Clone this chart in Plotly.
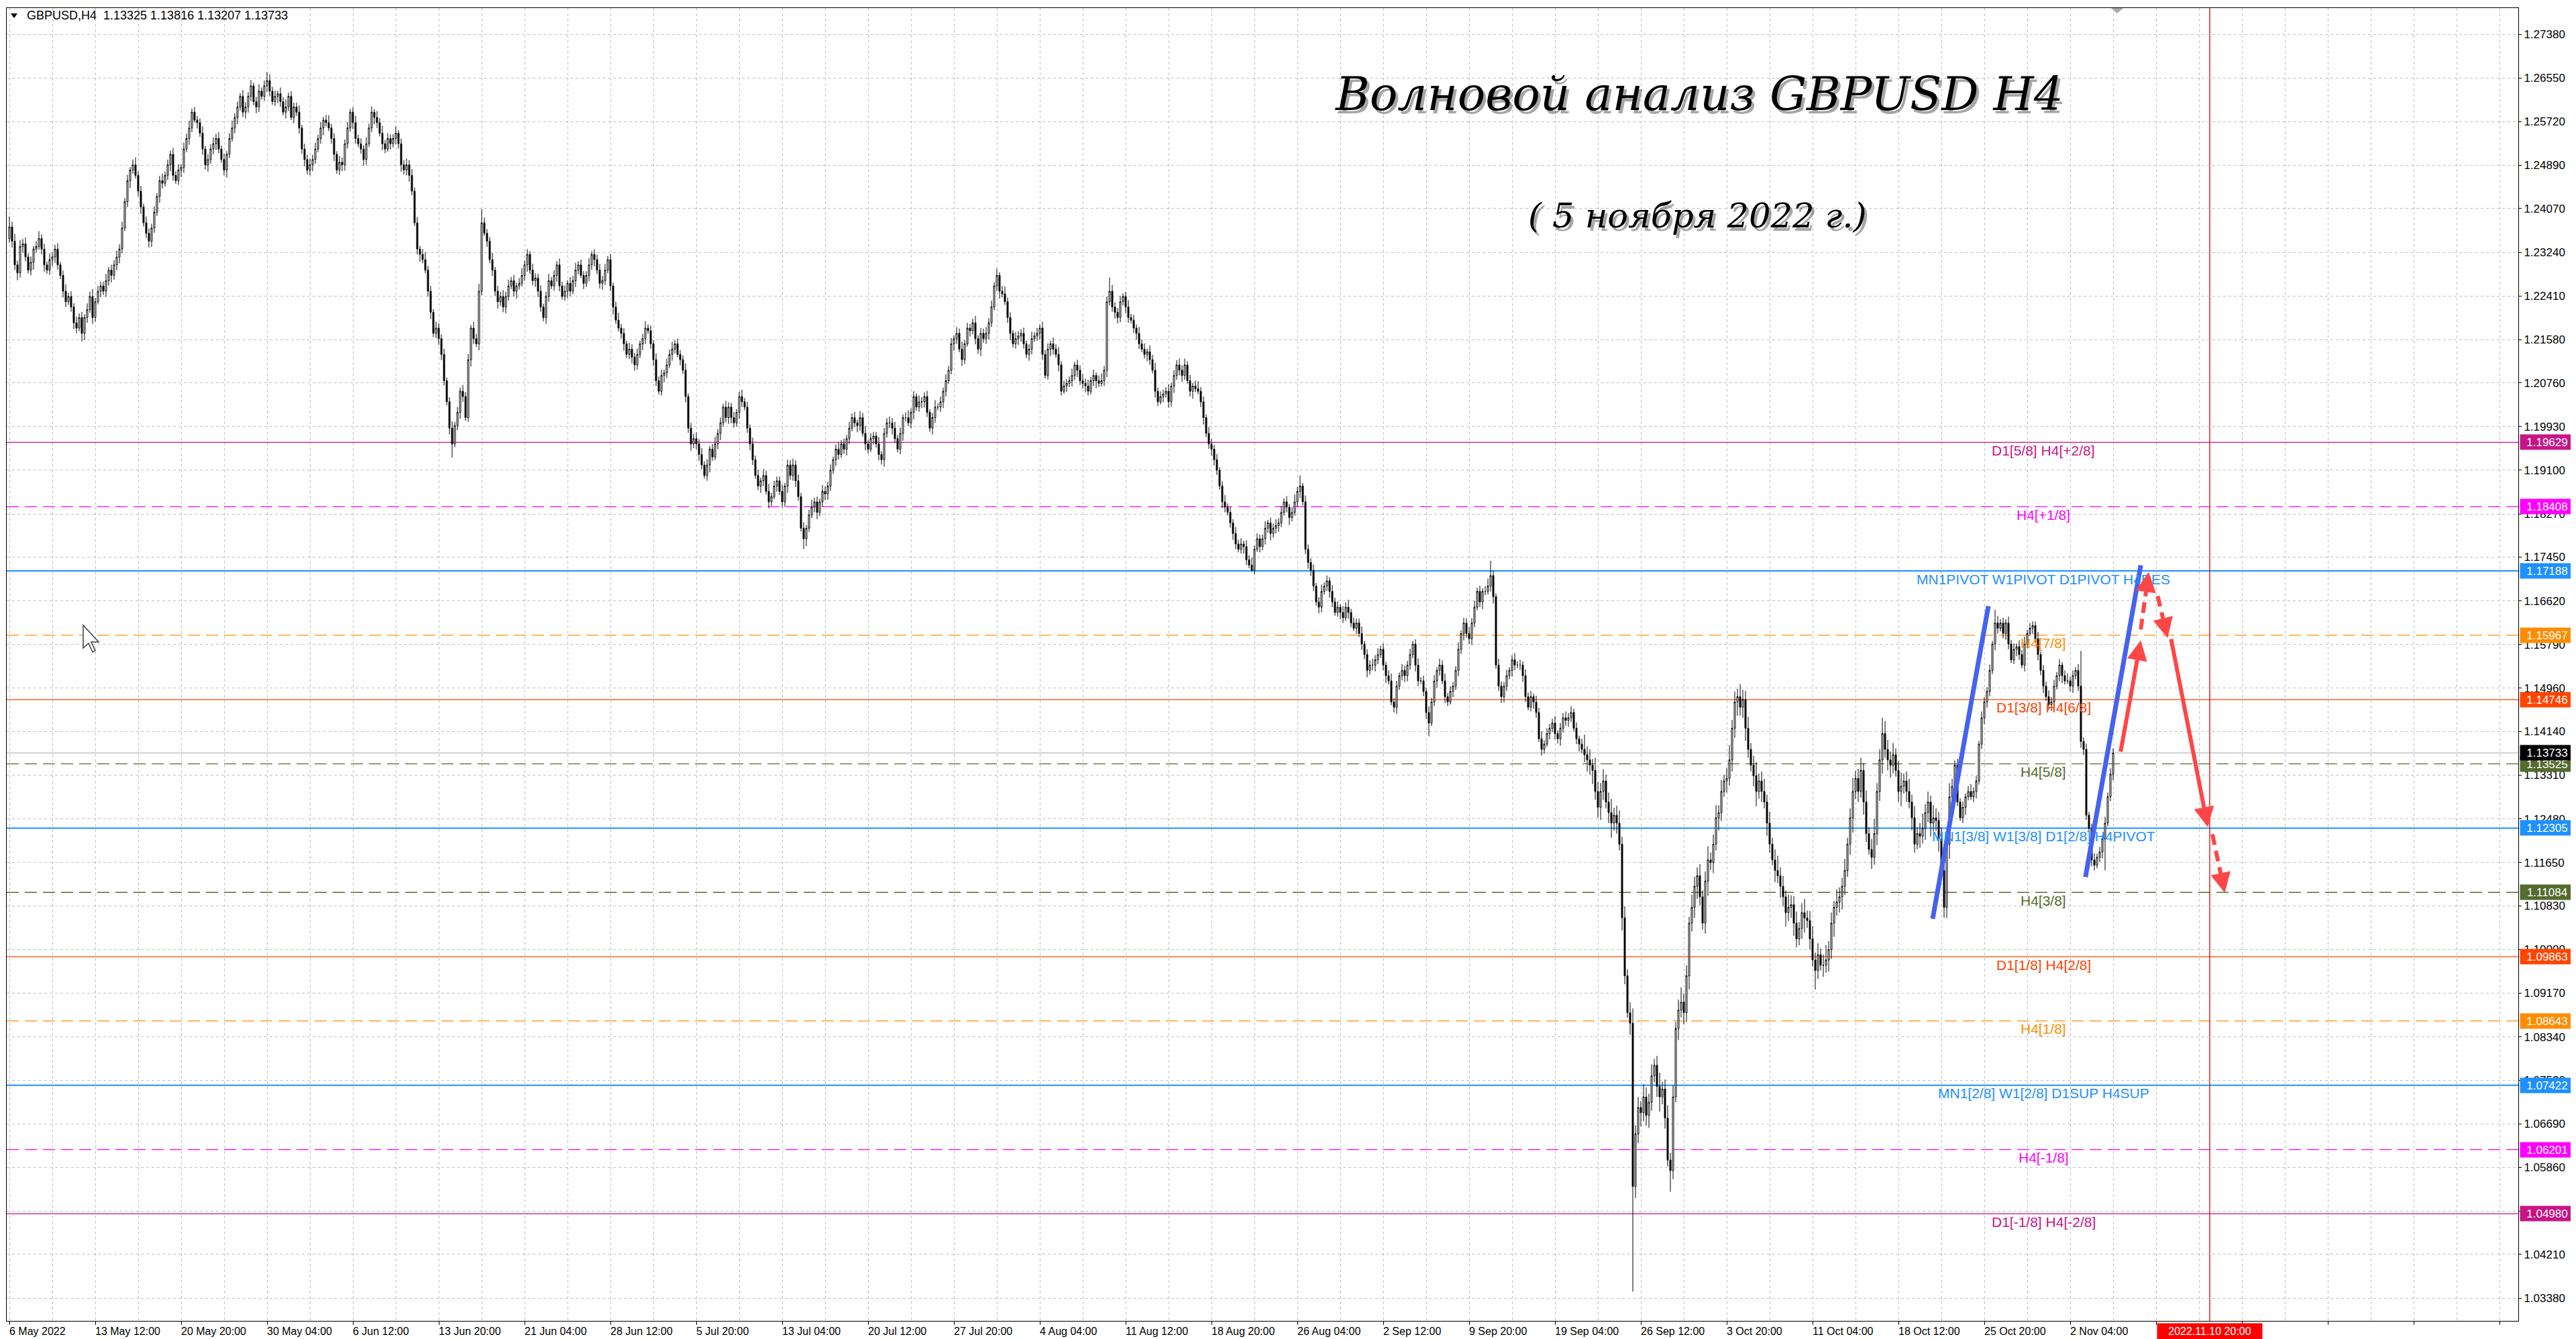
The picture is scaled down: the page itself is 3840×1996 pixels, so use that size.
import plotly.graph_objects as go

# ---------------- DATA ----------------
# GBPUSD H4 candles, prices in pips (1e-4). Open of each bar = previous close.
open_first = 12350
closes = [
 12372, 12345, 12300, 12285, 12335,
 12340, 12315, 12290, 12305, 12330, 12335,
 12350, 12330, 12300, 12290, 12310, 12315,
 12330, 12300, 12280, 12250, 12230, 12240,
 12220, 12190, 12180, 12200, 12170, 12200,
 12215, 12240, 12200, 12230, 12250, 12260,
 12250, 12270, 12290, 12280, 12300, 12315,
 12330, 12370, 12420, 12460, 12480, 12490,
 12470, 12440, 12410, 12380, 12360, 12345,
 12370, 12400, 12430, 12460, 12455, 12470,
 12490, 12510, 12470, 12460, 12480, 12485,
 12520, 12540, 12560, 12590, 12575, 12570,
 12550, 12520, 12490, 12500, 12520, 12530,
 12540, 12520, 12500, 12480, 12510, 12540,
 12560, 12580, 12600, 12620, 12590, 12600,
 12620, 12640, 12610, 12600, 12630, 12620,
 12640, 12650, 12630, 12610, 12620, 12625,
 12610, 12590, 12600, 12620, 12580, 12600,
 12590, 12560, 12520, 12500, 12480, 12490,
 12500, 12520, 12540, 12560, 12575, 12570,
 12560, 12540, 12510, 12480, 12495, 12490,
 12530, 12560, 12590, 12570, 12540, 12530,
 12520, 12500, 12530, 12560, 12590, 12580,
 12570, 12550, 12530, 12520, 12540, 12530,
 12540, 12550, 12530, 12490, 12480, 12490,
 12470, 12440, 12380, 12330, 12320, 12310,
 12290, 12250, 12210, 12170, 12180, 12160,
 12130, 12080, 12040, 11990, 11960, 11995,
 12020, 12060, 12050, 12010, 12120, 12180,
 12160, 12150, 12250, 12380, 12360, 12345,
 12310, 12290, 12250, 12230, 12240, 12220,
 12240, 12260, 12270, 12250, 12260, 12265,
 12280, 12300, 12320, 12290, 12270, 12275,
 12250, 12220, 12200, 12240, 12270, 12260,
 12280, 12300, 12260, 12240, 12250, 12265,
 12250, 12270, 12290, 12300, 12280, 12265,
 12280, 12300, 12320, 12310, 12290, 12265,
 12270, 12290, 12310, 12260, 12220, 12195,
 12180, 12170, 12150, 12130, 12140, 12125,
 12110, 12130, 12150, 12160, 12180, 12175,
 12150, 12120, 12080, 12060, 12090, 12095,
 12110, 12130, 12140, 12150, 12130, 12120,
 12100, 12050, 11990, 11960, 11970, 11960,
 11940, 11920, 11900, 11920, 11950, 11935,
 11960, 11980, 12000, 12030, 12010, 12030,
 12010, 12000, 12020, 12050, 12040, 12030,
 11990, 11960, 11930, 11900, 11880, 11890,
 11900, 11870, 11850, 11860, 11880, 11890,
 11870, 11850, 11880, 11920, 11900, 11920,
 11890, 11860, 11800, 11780, 11800, 11825,
 11840, 11850, 11830, 11850, 11870, 11865,
 11880, 11910, 11930, 11950, 11940, 11960,
 11950, 11970, 11990, 12010, 12000, 11995,
 12010, 11980, 11960, 11950, 11970, 11975,
 11960, 11940, 11930, 11980, 12000, 12000,
 11990, 11970, 11950, 11980, 12010, 12010,
 12000, 12020, 12050, 12030, 12040, 12040,
 12050, 12020, 11990, 12010, 12030, 12030,
 12040, 12060, 12080, 12100, 12150, 12160,
 12170, 12140, 12120, 12150, 12180, 12175,
 12190, 12160, 12140, 12170, 12160, 12170,
 12190, 12220, 12260, 12280, 12250, 12245,
 12230, 12200, 12170, 12150, 12160, 12165,
 12170, 12150, 12130, 12140, 12160, 12165,
 12170, 12180, 12130, 12090, 12140, 12150,
 12140, 12130, 12110, 12060, 12070, 12075,
 12080, 12090, 12110, 12100, 12080, 12075,
 12070, 12060, 12080, 12090, 12080, 12075,
 12080, 12100, 12230, 12250, 12220, 12210,
 12200, 12230, 12240, 12220, 12200, 12195,
 12180, 12170, 12150, 12140, 12130, 12135,
 12120, 12100, 12060, 12040, 12050, 12055,
 12060, 12040, 12070, 12090, 12110, 12100,
 12090, 12110, 12080, 12060, 12070, 12065,
 12060, 12040, 12010, 11980, 11960, 11950,
 11930, 11910, 11880, 11850, 11840, 11830,
 11810, 11790, 11770, 11760, 11770, 11765,
 11740, 11730, 11720, 11760, 11780, 11765,
 11780, 11800, 11810, 11790, 11800, 11805,
 11810, 11830, 11850, 11840, 11820, 11830,
 11850, 11870, 11880, 11850, 11760, 11735,
 11720, 11690, 11660, 11650, 11680, 11690,
 11700, 11680, 11660, 11640, 11650, 11640,
 11630, 11650, 11640, 11620, 11610, 11620,
 11600, 11580, 11560, 11530, 11540, 11540,
 11550, 11560, 11570, 11540, 11520, 11510,
 11470, 11460, 11500, 11520, 11530, 11520,
 11540, 11560, 11580, 11540, 11510, 11510,
 11490, 11450, 11430, 11470, 11510, 11530,
 11540, 11510, 11480, 11470, 11490, 11500,
 11530, 11570, 11600, 11620, 11600, 11590,
 11620, 11650, 11680, 11660, 11680, 11680,
 11690, 11710, 11670, 11540, 11500, 11480,
 11500, 11520, 11530, 11550, 11540, 11540,
 11540, 11520, 11480, 11460, 11480, 11470,
 11450, 11400, 11380, 11390, 11410, 11420,
 11430, 11410, 11400, 11420, 11440, 11435,
 11440, 11450, 11420, 11400, 11390, 11380,
 11370, 11360, 11350, 11340, 11300, 11270,
 11300, 11320, 11280, 11260, 11240, 11255,
 11240, 11200, 11060, 10950, 10880, 10860,
 10550, 10650, 10700, 10690, 10720, 10685,
 10710, 10760, 10780, 10740, 10720, 10735,
 10680, 10600, 10580, 10720, 10850, 10885,
 10900, 10880, 10950, 11050, 11080, 11120,
 11140, 11100, 11050, 11130, 11170, 11165,
 11200, 11250, 11260, 11300, 11320, 11325,
 11360, 11420, 11470, 11480, 11460, 11475,
 11420, 11380, 11350, 11330, 11300, 11320,
 11300, 11280, 11240, 11200, 11170, 11150,
 11140, 11120, 11100, 11070, 11080, 11085,
 11050, 11020, 11040, 11070, 11060, 11055,
 11020, 10980, 10960, 10990, 10970, 10970,
 10980, 11000, 11050, 11080, 11090, 11100,
 11120, 11150, 11200, 11250, 11300, 11325,
 11300, 11340, 11280, 11220, 11190, 11175,
 11220, 11300, 11360, 11410, 11380, 11360,
 11350, 11370, 11340, 11300, 11310, 11320,
 11300, 11280, 11250, 11200, 11220, 11215,
 11230, 11260, 11280, 11240, 11250, 11245,
 11210, 11150, 11080, 11200, 11290, 11310,
 11350, 11280, 11250, 11270, 11290, 11300,
 11290, 11300, 11320, 11390, 11440, 11470,
 11490, 11530, 11580, 11620, 11610, 11620,
 11600, 11620, 11580, 11550, 11570, 11575,
 11560, 11540, 11580, 11600, 11610, 11615,
 11590, 11560, 11530, 11500, 11480, 11465,
 11470, 11500, 11520, 11540, 11520, 11510,
 11510, 11500, 11520, 11530, 11500, 11395,
 11380, 11255, 11230, 11170, 11160, 11175,
 11185, 11210, 11240, 11290, 11333, 11373,
]
# upper / lower shadow lengths in pips
wick_up = [
 20, 10, 14, 8, 12,
 9, 12, 7, 11, 6, 10,  14, 8, 10, 6, 12, 9,  8, 11, 6, 9, 13, 7,  10, 7, 12, 8, 11, 6,  12, 9, 14, 7, 10, 8,  8, 13, 6, 10, 9, 12,
 9, 12, 7, 11, 6, 10,  14, 8, 10, 6, 12, 9,  8, 11, 6, 9, 13, 7,  10, 7, 12, 8, 11, 6,  12, 9, 14, 7, 10, 8,  8, 13, 6, 10, 9, 12,
 9, 12, 7, 11, 6, 10,  14, 8, 10, 6, 12, 9,  8, 11, 6, 9, 13, 7,  10, 16, 12, 8, 11, 6, 12, 9, 14, 7, 10, 8,  8, 13, 6, 10, 9, 12,
 9, 12, 7, 11, 6, 10,  14, 8, 10, 6, 12, 9,  8, 11, 6, 9, 13, 7,  10, 7, 12, 8, 11, 6,  12, 9, 14, 7, 10, 8,  8, 13, 6, 10, 9, 12,
 9, 12, 7, 11, 6, 10,  14, 8, 10, 6, 12, 9,  8, 11, 6, 9, 13, 7,  10, 7, 12, 8, 11, 6,  12, 9, 14, 26, 10, 8, 8, 13, 6, 10, 9, 12,
 9, 12, 7, 11, 6, 10,  14, 8, 10, 6, 12, 9,  8, 11, 6, 9, 13, 7,  10, 7, 12, 8, 11, 6,  12, 9, 14, 7, 10, 8,  8, 13, 6, 10, 9, 12,
 9, 12, 7, 11, 6, 10,  14, 8, 10, 6, 12, 9,  8, 11, 6, 9, 13, 7,  10, 7, 12, 8, 11, 6,  12, 9, 14, 7, 10, 8,  8, 13, 6, 10, 9, 12,
 9, 12, 7, 11, 6, 10,  14, 8, 10, 6, 12, 9,  8, 11, 6, 9, 13, 7,  10, 7, 12, 8, 11, 6,  12, 9, 14, 7, 10, 8,  8, 13, 6, 10, 9, 12,
 9, 12, 7, 11, 6, 10,  14, 8, 10, 6, 12, 9,  8, 11, 6, 9, 13, 7,  10, 7, 12, 8, 11, 6,  12, 9, 14, 7, 10, 8,  8, 13, 6, 10, 9, 12,
 9, 12, 7, 11, 6, 10,  14, 8, 10, 6, 12, 9,  8, 11, 6, 9, 13, 7,  10, 7, 12, 8, 11, 6,  12, 9, 14, 7, 10, 8,  8, 13, 6, 10, 9, 12,
 9, 12, 7, 13, 6, 10,  14, 8, 10, 6, 12, 9,  8, 11, 6, 9, 13, 7,  10, 7, 12, 8, 11, 6,  12, 9, 14, 7, 10, 8,  8, 13, 6, 10, 9, 12,
 9, 12, 7, 11, 6, 10,  14, 8, 10, 26, 12, 9, 8, 11, 6, 9, 13, 7,  10, 7, 12, 8, 11, 6,  12, 9, 14, 7, 10, 8,  8, 13, 6, 10, 9, 12,
 9, 12, 7, 11, 6, 10,  14, 8, 10, 6, 12, 9,  8, 11, 6, 9, 13, 7,  10, 7, 12, 8, 11, 6,  12, 9, 14, 7, 10, 8,  8, 13, 6, 10, 9, 12,
 9, 12, 7, 11, 6, 10,  14, 8, 20, 6, 12, 9,  8, 11, 6, 9, 13, 7,  10, 7, 12, 8, 11, 6,  12, 9, 14, 7, 10, 8,  8, 13, 6, 10, 9, 12,
 9, 12, 7, 11, 6, 10,  14, 8, 10, 6, 12, 9,  8, 11, 6, 9, 13, 7,  10, 7, 12, 8, 11, 6,  12, 9, 14, 7, 10, 8,  8, 13, 6, 10, 9, 12,
 9, 12, 7, 11, 6, 10,  14, 28, 10, 6, 12, 9, 8, 11, 6, 9, 13, 7,  10, 7, 12, 8, 11, 6,  12, 9, 14, 7, 10, 8,  8, 13, 6, 10, 9, 12,
 9, 12, 7, 11, 6, 10,
 28, 16, 20, 12, 24, 18,  16, 22, 12, 18, 26, 14,  18, 24, 14, 22, 12, 20,
 28, 16, 20, 12, 24, 18,  16, 22, 12, 18, 26, 14,  18, 24, 14, 22, 12, 20,
 28, 16, 20, 12, 24, 18,  16, 22, 12, 18, 26, 14,  18, 24, 14, 22, 12, 20,
 28, 16, 20, 15, 24, 18,  16, 22, 12, 18, 26, 14,  18, 24, 14, 22, 12, 20,
 28, 16, 20, 12, 24, 18,  16, 22, 12, 18, 26, 14,  18, 24, 14, 22, 12, 20,
 28, 16, 20, 12, 24, 18,  16, 22, 12, 18, 26, 14,  18, 24, 14, 22, 12, 20,
 28, 16, 20, 30, 24, 18,  16, 22, 12, 18, 26, 14,  18, 24, 14, 22, 12, 20,
 28, 16, 20, 12, 24, 18,  16, 22, 12, 18, 26, 14,
 9, 12, 7, 11, 6, 10,  14, 8, 10, 6, 12, 9,  8, 11, 6, 25, 13, 7,  10, 7, 12, 8, 11, 6,  12, 9, 14, 7, 10, 8,  8, 13, 6, 10, 9, 12,
 9, 12, 7, 11, 6, 10,  14, 8, 10, 6, 12, 67,  8, 11, 6, 9, 13, 7,  10, 7, 12, 8, 11, 9,
]
wick_dn = [
 8, 12, 10, 14, 9,
 12, 8, 6, 10, 14, 7,  6, 10, 13, 7, 9, 12,  11, 9, 7, 12, 10, 6,  9, 12, 10, 6, 15, 13,  10, 6, 12, 8, 5, 11,  7, 11, 9, 13, 8, 10,
 12, 8, 6, 10, 14, 7,  6, 10, 13, 7, 9, 12,  11, 9, 7, 12, 10, 6,  9, 12, 10, 6, 8, 13,  10, 6, 12, 8, 5, 11,  7, 11, 9, 13, 8, 10,
 12, 8, 6, 10, 14, 7,  6, 10, 13, 7, 9, 12,  11, 9, 7, 12, 10, 6,  9, 12, 10, 6, 8, 13,  10, 6, 12, 8, 5, 11,  7, 11, 9, 13, 8, 10,
 12, 8, 6, 10, 14, 7,  6, 10, 13, 7, 9, 12,  11, 9, 7, 12, 10, 6,  9, 12, 10, 6, 8, 13,  10, 6, 12, 8, 5, 11,  7, 11, 9, 13, 8, 10,
 12, 8, 6, 10, 14, 7,  6, 10, 13, 7, 9, 12,  11, 9, 7, 12, 26, 6,  9, 12, 10, 6, 8, 13,  10, 6, 12, 8, 5, 11,  7, 11, 9, 13, 8, 10,
 12, 8, 6, 10, 14, 7,  6, 10, 13, 7, 9, 12,  11, 9, 7, 12, 10, 6,  9, 12, 10, 6, 8, 13,  10, 6, 12, 8, 5, 11,  7, 11, 9, 13, 8, 10,
 12, 8, 6, 10, 14, 7,  6, 10, 13, 7, 9, 12,  11, 9, 7, 12, 10, 6,  9, 12, 10, 6, 8, 13,  10, 6, 12, 8, 5, 11,  7, 11, 9, 13, 8, 10,
 12, 8, 6, 10, 14, 7,  6, 10, 13, 7, 9, 12,  11, 9, 7, 12, 10, 6,  9, 12, 10, 6, 8, 13,  10, 6, 12, 8, 5, 11,  7, 11, 9, 13, 8, 10,
 12, 8, 6, 20, 14, 7,  6, 10, 13, 7, 9, 12,  11, 9, 7, 12, 10, 6,  9, 12, 10, 6, 8, 13,  10, 6, 12, 8, 5, 11,  7, 11, 9, 13, 8, 10,
 12, 8, 6, 10, 14, 7,  6, 10, 13, 7, 9, 12,  11, 9, 7, 12, 10, 6,  9, 12, 10, 6, 8, 13,  10, 6, 12, 8, 5, 11,  7, 11, 9, 13, 8, 10,
 12, 8, 6, 10, 14, 7,  6, 10, 13, 7, 9, 12,  11, 9, 7, 12, 10, 6,  9, 12, 10, 6, 8, 13,  10, 6, 12, 8, 5, 11,  7, 11, 9, 13, 8, 10,
 12, 8, 6, 10, 14, 7,  6, 10, 13, 7, 9, 12,  11, 9, 7, 12, 10, 6,  9, 12, 10, 6, 8, 13,  10, 6, 12, 8, 5, 11,  7, 11, 9, 13, 8, 10,
 12, 8, 6, 10, 14, 7,  6, 10, 13, 7, 9, 12,  11, 9, 7, 12, 10, 6,  9, 12, 10, 6, 8, 13,  10, 6, 2, 8, 5, 11,   7, 11, 9, 13, 8, 10,
 12, 8, 6, 10, 14, 7,  6, 10, 13, 7, 9, 12,  11, 9, 7, 12, 10, 6,  9, 12, 10, 6, 8, 13,  10, 6, 12, 8, 5, 11,  7, 11, 9, 13, 8, 10,
 12, 8, 6, 10, 14, 7,  6, 10, 13, 7, 9, 12,  11, 9, 7, 12, 10, 6,  9, 12, 25, 6, 8, 13,  10, 6, 12, 8, 5, 11,  7, 11, 9, 13, 8, 10,
 12, 8, 6, 10, 14, 7,  6, 10, 13, 7, 9, 12,  11, 9, 7, 12, 10, 6,  9, 12, 10, 6, 8, 13,  10, 6, 12, 8, 5, 11,  7, 11, 9, 13, 8, 10,
 12, 8, 6, 10, 14, 7,
 14, 22, 18, 26, 16, 20,  24, 16, 12, 20, 28, 14,  20, 12, 24, 16, 10, 22,
 200, 22, 18, 26, 16, 20, 24, 16, 12, 20, 28, 14,  20, 12, 40, 16, 10, 22,
 14, 22, 18, 26, 16, 20,  24, 16, 12, 20, 28, 14,  20, 12, 24, 16, 10, 22,
 14, 22, 18, 26, 16, 20,  24, 16, 12, 20, 28, 14,  20, 12, 24, 16, 10, 22,
 14, 22, 18, 26, 16, 20,  24, 16, 12, 20, 28, 14,  20, 12, 36, 16, 10, 22,
 14, 22, 18, 26, 16, 20,  24, 16, 12, 20, 28, 14,  20, 12, 24, 16, 10, 22,
 14, 22, 18, 26, 16, 20,  24, 16, 12, 20, 28, 14,  20, 12, 24, 16, 10, 22,
 14, 22, 18, 26, 16, 20,  24, 16, 20, 20, 28, 14,
 12, 8, 6, 10, 14, 7,  6, 10, 13, 7, 9, 12,  11, 9, 7, 12, 10, 6,  9, 12, 10, 6, 8, 13,  10, 6, 12, 8, 5, 11,  7, 11, 9, 13, 8, 10,
 12, 8, 6, 10, 14, 7,  6, 10, 13, 7, 9, 12,  11, 9, 7, 12, 10, 6,  9, 12, 60, 6, 8, 12,
]

x_tick_labels = ["6 May 2022", "13 May 12:00", "20 May 20:00", "30 May 04:00", "6 Jun 12:00",
                 "13 Jun 20:00", "21 Jun 04:00", "28 Jun 12:00", "5 Jul 20:00", "13 Jul 04:00",
                 "20 Jul 12:00", "27 Jul 20:00", "4 Aug 04:00", "11 Aug 12:00", "18 Aug 20:00",
                 "26 Aug 04:00", "2 Sep 12:00", "9 Sep 20:00", "19 Sep 04:00", "26 Sep 12:00",
                 "3 Oct 20:00", "11 Oct 04:00", "18 Oct 12:00", "25 Oct 20:00", "2 Nov 04:00"]
x_label_step = 32

y_ticks = [1.27380, 1.26550, 1.25720, 1.24890, 1.24070, 1.23240, 1.22410, 1.21580, 1.20760,
           1.19930, 1.19100, 1.18270, 1.17450, 1.16620, 1.15790, 1.14960, 1.14140, 1.13310,
           1.12480, 1.11650, 1.10830, 1.10000, 1.09170, 1.08340, 1.07520, 1.06690, 1.05860,
           1.05030, 1.04210, 1.03380]

level_prices = [1.19629, 1.18408, 1.17188, 1.15967, 1.14746, 1.13525, 1.12305,
                1.11084, 1.09863, 1.08643, 1.07422, 1.06201, 1.04980]
level_texts = ["D1[5/8] H4[+2/8]", "H4[+1/8]", "MN1PIVOT W1PIVOT D1PIVOT H4RES", "H4[7/8]",
               "D1[3/8] H4[6/8]", "H4[5/8]", "MN1[3/8] W1[3/8] D1[2/8] H4PIVOT", "H4[3/8]",
               "D1[1/8] H4[2/8]", "H4[1/8]", "MN1[2/8] W1[2/8] D1SUP H4SUP", "H4[-1/8]",
               "D1[-1/8] H4[-2/8]"]
level_colors = ["#C71585", "#FF00FF", "#1E90FF", "#FF8C00", "#FF4500", "#556B2F", "#1E90FF",
                "#556B2F", "#FF4500", "#FF8C00", "#1E90FF", "#FF00FF", "#C71585"]
level_dashed = [False, True, False, True, False, True, False, True, False, True, False, True, False]
level_label_bar = 758

bid_price = 1.13733
header_text = "GBPUSD,H4  1.13325 1.13816 1.13207 1.13733"
title_text = "Волновой анализ GBPUSD H4"
subtitle_text = "( 5 ноября 2022 г.)"
future_bar = 820
future_label = "2022.11.10 20:00"

# hand-drawn wave lines (bar index, price)
wave_lines = [[(716.75, 1.10581), (737.5, 1.16518)],
              [(773.7, 1.11376), (794.3, 1.17296)]]
# forecast arrows: (tail bar, tail price, tip bar, tip price, dashed)
forecast_arrows = [(786.8, 1.13756, 794.3, 1.15872, False),
                   (794.3, 1.16076, 797.25, 1.17169, True),
                   (800.6, 1.16712, 804.3, 1.15916, True),
                   (805.6, 1.15895, 819.3, 1.12323, False),
                   (821.0, 1.12186, 825.6, 1.11074, True)]

# ---------------- GEOMETRY ----------------
FIG_W, FIG_H = 3840, 1996
PL, PR, PT, PB = 2, 3746, 4, 1961           # plot area in pixels
X_RANGE = [-1.0, 935.0]
Y_RANGE = [1.02947, 1.27877]
PX_PER_BAR = (PR - PL) / (X_RANGE[1] - X_RANGE[0])
PX_PER_PRICE = (PB - PT) / (Y_RANGE[1] - Y_RANGE[0])


def pxx(X):
    return (X - PL) / (PR - PL)


def pxy(Y):
    return (PB - Y) / (PB - PT)


FONT = "Liberation Sans, Arial, sans-serif"
GRID = "#C0C0C0"
RED = "#FF4646"
BLUE = "#4563F0"

opens = [open_first] + closes[:-1]
o = [v / 1e4 for v in opens]
c = [v / 1e4 for v in closes]
h = [(max(a, b) + u) / 1e4 for a, b, u in zip(opens, closes, wick_up)]
lo = [(min(a, b) - d) / 1e4 for a, b, d in zip(opens, closes, wick_dn)]
xs = list(range(len(closes)))

fig = go.Figure()
fig.add_trace(go.Candlestick(
    x=xs, open=o, high=h, low=lo, close=c,
    increasing=dict(line=dict(color="black", width=1), fillcolor="white"),
    decreasing=dict(line=dict(color="black", width=1), fillcolor="black"),
    whiskerwidth=0, showlegend=False, hoverinfo="skip"))

shapes = []
annotations = []

# level lines
for p, col, dashed in zip(level_prices, level_colors, level_dashed):
    shapes.append(dict(type="line", xref="paper", x0=0, x1=1, yref="y", y0=p, y1=p,
                       line=dict(color=col, width=2 if col == "#1E90FF" else 1.3,
                                 dash="18px,9px" if dashed else "solid"),
                       layer="between"))
shapes.append(dict(type="line", xref="paper", x0=0, x1=1, yref="y", y0=bid_price, y1=bid_price,
                   line=dict(color="#B8B8B8", width=1.3), layer="between"))
# future vertical line
shapes.append(dict(type="line", xref="x", x0=future_bar, x1=future_bar, yref="paper", y0=0, y1=1,
                   line=dict(color="#D00000", width=1.3), layer="between"))

# level labels
for p, col, t in zip(level_prices, level_colors, level_texts):
    annotations.append(dict(x=level_label_bar, y=p, xref="x", yref="y", text=t, showarrow=False,
                            yshift=-12, xanchor="center", yanchor="middle",
                            font=dict(family=FONT, size=21, color=col)))

# right price boxes
box_prices = level_prices + [bid_price]
box_colors = level_colors + ["#000000"]
for p, col in zip(box_prices, box_colors):
    annotations.append(dict(x=pxx(3748), y=p, xref="paper", yref="y", text=f"{p:.5f}",
                            showarrow=False, xanchor="left", yanchor="middle",
                            bgcolor=col, width=80, height=22, borderpad=0, align="center",
                            font=dict(family=FONT, size=17, color="white")))

# x labels (left aligned at tick)
for i, t in enumerate(x_tick_labels):
    annotations.append(dict(x=i * x_label_step, y=pxy(1977), xref="x", yref="paper", text=t,
                            showarrow=False, xanchor="left", yanchor="middle", xshift=-2,
                            font=dict(family=FONT, size=16, color="black")))
annotations.append(dict(x=future_bar, y=pxy(1976.5), xref="x", yref="paper", text=future_label,
                        showarrow=False, xanchor="center", yanchor="middle", bgcolor="#FF0000",
                        width=156, height=23, borderpad=0,
                        font=dict(family=FONT, size=16, color="white")))

# header
annotations.append(dict(x=pxx(30), y=pxy(15), xref="paper", yref="paper", text=header_text,
                        showarrow=False, xanchor="left", yanchor="middle",
                        font=dict(family=FONT, size=18, color="black")))
shapes.append(dict(type="path", xref="paper", yref="paper",
                   path=f"M {pxx(8)},{pxy(12)} L {pxx(18)},{pxy(12)} L {pxx(13)},{pxy(19)} Z",
                   fillcolor="black", line=dict(width=0)))
# shift marker at top
shapes.append(dict(type="path", xref="paper", yref="paper",
                   path=f"M {pxx(3139)},{pxy(4)} L {pxx(3157)},{pxy(4)} L {pxx(3148)},{pxy(12)} Z",
                   fillcolor="#A8A8A8", line=dict(width=0)))
# mouse cursor
cur = [(0, 0), (0, 34), (8, 27), (14, 40), (18, 38), (12, 25), (23, 25)]
cx, cy = 116, 924
cpath = "M " + " L ".join(f"{pxx(cx + a)},{pxy(cy + b)}" for a, b in cur) + " Z"
shapes.append(dict(type="path", xref="paper", yref="paper", path=cpath,
                   fillcolor="white", line=dict(color="#404040", width=1.5)))

# titles with drop shadow
for dx, dy, col in [(4, 5, "rgba(0,0,0,0.35)"), (0, 0, "black")]:
    annotations.append(dict(x=pxx(2524 + dx), y=pxy(132 + dy), xref="paper", yref="paper",
                            text=f"<i>{title_text}</i>", showarrow=False, xanchor="center",
                            yanchor="middle", font=dict(family="DejaVu Serif, serif", size=69, color=col)))
    annotations.append(dict(x=pxx(2522 + dx), y=pxy(314 + dy), xref="paper", yref="paper",
                            text=f"<i>{subtitle_text}</i>", showarrow=False, xanchor="center",
                            yanchor="middle", font=dict(family="DejaVu Serif, serif", size=51, color=col)))

# wave lines
for seg in wave_lines:
    fig.add_trace(go.Scatter(x=[seg[0][0], seg[1][0]], y=[seg[0][1], seg[1][1]], mode="lines",
                             line=dict(color=BLUE, width=7), showlegend=False, hoverinfo="skip"))

# forecast arrows
HEAD_PX = 24
for x0, y0, x1, y1, dashed in forecast_arrows:
    dxp = (x1 - x0) * PX_PER_BAR
    dyp = (y1 - y0) * PX_PER_PRICE
    L = (dxp ** 2 + dyp ** 2) ** 0.5
    f = HEAD_PX / L
    xb = x1 - (x1 - x0) * f
    yb = y1 - (y1 - y0) * f
    fig.add_trace(go.Scatter(x=[x0, xb], y=[y0, yb], mode="lines",
                             line=dict(color=RED, width=6, dash="16px,9px" if dashed else "solid"),
                             showlegend=False, hoverinfo="skip"))
    annotations.append(dict(x=x1, y=y1, xref="x", yref="y", ax=xb, ay=yb, axref="x", ayref="y",
                            text="", showarrow=True, arrowhead=2, arrowsize=1.0, arrowwidth=6,
                            arrowcolor=RED, standoff=0))

fig.update_layout(
    width=FIG_W, height=FIG_H, autosize=False,
    margin=dict(l=PL, r=FIG_W - PR, t=PT, b=FIG_H - PB, pad=0),
    paper_bgcolor="white", plot_bgcolor="white",
    showlegend=False, shapes=shapes, annotations=annotations,
    xaxis=dict(range=X_RANGE, rangeslider=dict(visible=False), showticklabels=False,
               tick0=0, dtick=x_label_step, ticks="outside", ticklen=5, tickcolor="black",
               showgrid=True, gridcolor=GRID, griddash="4px,4px", gridwidth=1,
               minor=dict(tick0=0, dtick=16, showgrid=True, gridcolor=GRID, griddash="4px,4px", ticks=""),
               showline=True, linecolor="black", linewidth=1, mirror=True, zeroline=False),
    yaxis=dict(range=Y_RANGE, side="right", tickmode="array", tickvals=y_ticks,
               ticktext=[f"{v:.5f}" for v in y_ticks], ticks="outside", ticklen=4,
               tickcolor="black", tickfont=dict(family=FONT, size=17, color="black"),
               showgrid=True, gridcolor=GRID, griddash="4px,4px", gridwidth=1,
               showline=True, linecolor="black", linewidth=1, mirror=True, zeroline=False),
)

fig.write_html("out.html")
